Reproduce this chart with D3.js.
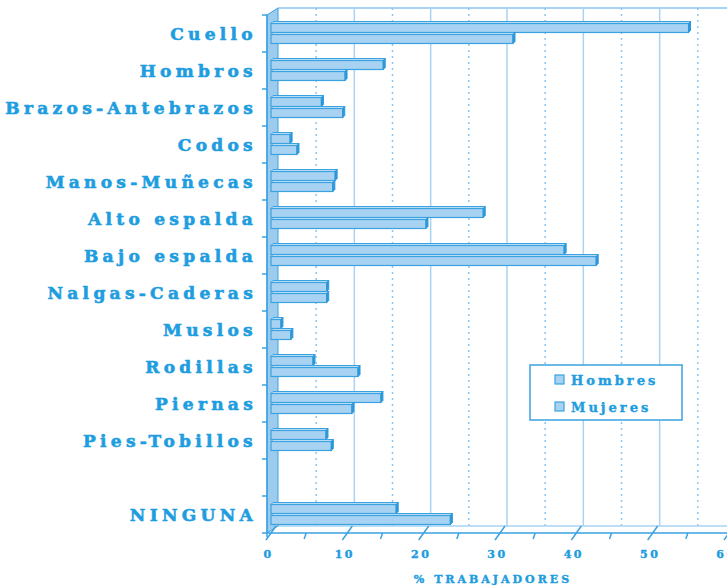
<!DOCTYPE html>
<html>
<head>
<meta charset="utf-8">
<script src="https://cdn.jsdelivr.net/npm/d3@7"></script>
<style>
  html, body { margin: 0; padding: 0; background: #ffffff; }
  svg { display: block; }
</style>
</head>
<body>
<script>
// Zonas corporales con molestias, % de trabajadores por sexo
const categories = ["Cuello", "Hombros", "Brazos-Antebrazos", "Codos", "Manos-Muñecas",
  "Alto espalda", "Bajo espalda", "Nalgas-Caderas", "Muslos", "Rodillas", "Piernas",
  "Pies-Tobillos", "", "NINGUNA"];
const hombres = [54.7, 14.7, 6.6, 2.5, 8.4, 27.8, 38.4, 7.3, 1.3, 5.5, 14.4, 7.2, null, 16.4];
const mujeres = [31.7, 9.7, 9.4, 3.4, 8.1, 20.3, 42.6, 7.3, 2.6, 11.4, 10.6, 7.9, null, 23.5];
const seriesNames = ["Hombres", "Mujeres"];
const xTicks = [0, 10, 20, 30, 40, 50, 60];
const xMinorTicks = [5, 15, 25, 35, 45, 55];
const xTitle = "% TRABAJADORES";

const W = 727, H = 587;
const TEXT = "#1e9ddf", LINE = "#3aa2e0", GRID = "#a9d3f2";
const BAR_FILL = "#a8d2f1", BAR_TOP = "#c4e1f6", BAR_END = "#2b98d9";
const FONT = "'DejaVu Serif', serif";

// 3D depth offset between front and back planes
const DX = 11, DY = -7;
const plotTop = 15, plotBottom = 533;

const svg = d3.select("body").append("svg").attr("width", W).attr("height", H);

const x = d3.scaleLinear().domain([0, 60]).range([267, 725]);
const xBar = d3.scaleLinear().domain([0, 60]).range([271, 729]);
const y = d3.scaleBand().domain(d3.range(categories.length)).range([plotTop, plotBottom]);

// heavy slab-like lettering
function heavy(sel, size, spacing) {
  sel.attr("fill", TEXT).attr("stroke", TEXT).attr("stroke-width", 0.6)
    .attr("font-family", FONT).attr("font-weight", "bold")
    .attr("font-size", size).attr("letter-spacing", spacing + "px");
}

// back wall gridlines
const g = svg.append("g");
g.append("line").attr("x1", x(0) + DX).attr("x2", W).attr("y1", plotTop + DY).attr("y2", plotTop + DY)
  .attr("stroke", GRID).attr("stroke-width", 2);
xTicks.slice(1).forEach(v => {
  g.append("line").attr("x1", x(v) + DX).attr("x2", x(v) + DX)
    .attr("y1", plotTop + DY).attr("y2", plotBottom + DY)
    .attr("stroke", GRID).attr("stroke-width", 1.5);
});
xMinorTicks.forEach(v => {
  g.append("line").attr("x1", x(v) + DX).attr("x2", x(v) + DX)
    .attr("y1", plotTop + DY).attr("y2", plotBottom + DY)
    .attr("stroke", "#8cc5ee").attr("stroke-width", 1.5).attr("stroke-dasharray", "2,4");
});

// floor edges
g.append("line").attr("x1", x(0) + DX).attr("x2", W).attr("y1", plotBottom + DY).attr("y2", plotBottom + DY)
  .attr("stroke", GRID).attr("stroke-width", 1.5);
g.append("line").attr("x1", x(0)).attr("x2", W).attr("y1", plotBottom).attr("y2", plotBottom)
  .attr("stroke", LINE).attr("stroke-width", 1.5);

// left wall, seen edge-on
g.append("polygon")
  .attr("points", [[x(0), plotTop], [x(0) + DX, plotTop + DY], [x(0) + DX, plotBottom + DY], [x(0), plotBottom]].join(" "))
  .attr("fill", "#9ccbee").attr("stroke", LINE).attr("stroke-width", 1);
g.append("line").attr("x1", x(0)).attr("x2", x(0)).attr("y1", plotTop).attr("y2", plotBottom + 4)
  .attr("stroke", LINE).attr("stroke-width", 1.5);

// category boundary ticks
d3.range(categories.length + 1).forEach(i => {
  const yy = plotTop + i * y.step();
  g.append("line").attr("x1", x(0) - 5).attr("x2", x(0)).attr("y1", yy).attr("y2", yy)
    .attr("stroke", LINE).attr("stroke-width", 1.5);
});

// x ticks on the floor
xTicks.forEach(v => {
  g.append("line").attr("x1", x(v) + DX - 2).attr("y1", plotBottom + DY)
    .attr("x2", x(v) - 1).attr("y2", plotBottom + 7)
    .attr("stroke", LINE).attr("stroke-width", 1.5);
});
xMinorTicks.forEach(v => {
  g.append("line").attr("x1", x(v) + 1).attr("y1", plotBottom)
    .attr("x2", x(v) - 1).attr("y2", plotBottom + 6)
    .attr("stroke", LINE).attr("stroke-width", 1.5);
});

// bars
const barH = 11, depth = 2;
function drawBar(val, yTop) {
  if (val == null) return;
  const x0 = xBar(0), x1 = xBar(val);
  const bg = svg.append("g");
  bg.append("polygon")
    .attr("points", [[x0, yTop + depth], [x0 + depth, yTop], [x1 + depth, yTop], [x1, yTop + depth]].join(" "))
    .attr("fill", BAR_TOP).attr("stroke", LINE).attr("stroke-width", 1);
  bg.append("rect").attr("x", x0).attr("y", yTop + depth).attr("width", x1 - x0).attr("height", barH - depth)
    .attr("fill", BAR_FILL).attr("stroke", LINE).attr("stroke-width", 1.2);
  bg.append("polygon")
    .attr("points", [[x1, yTop + depth], [x1 + depth, yTop], [x1 + depth, yTop + barH - depth], [x1, yTop + barH]].join(" "))
    .attr("fill", BAR_END).attr("stroke", BAR_END).attr("stroke-width", 1);
}
categories.forEach((c, i) => {
  const mid = y(i) + y.bandwidth() / 2 - 1;
  drawBar(hombres[i], mid - barH);
  drawBar(mujeres[i], mid);
});

// category labels
const yAxis = d3.axisLeft(y).tickSize(0).tickPadding(0).tickFormat(i => categories[i]);
const ya = svg.append("g").attr("transform", "translate(257,0)").call(yAxis);
ya.select(".domain").remove();
ya.selectAll("text").call(heavy, 17, 4.3).attr("dy", "0.36em");

// x tick labels
const xAxis = d3.axisBottom(x).tickValues(xTicks).tickSize(0).tickPadding(0);
const xa = svg.append("g").attr("transform", `translate(0,${plotBottom + 25})`).call(xAxis);
xa.select(".domain").remove();
xa.selectAll("text").call(heavy, 11, 2.5).attr("stroke-width", 0.4).attr("dx", "1px").attr("dy", 0);

svg.append("text").attr("x", 493).attr("y", 583).attr("text-anchor", "middle")
  .call(heavy, 11, 3).attr("stroke-width", 0.4).text(xTitle);

// legend
const lg = svg.append("g");
lg.append("rect").attr("x", 530).attr("y", 365).attr("width", 152).attr("height", 55)
  .attr("fill", "#ffffff").attr("stroke", LINE).attr("stroke-width", 1.5);
seriesNames.forEach((s, i) => {
  const yy = 375 + i * 27;
  lg.append("rect").attr("x", 555).attr("y", yy).attr("width", 9).attr("height", 9)
    .attr("fill", BAR_FILL).attr("stroke", LINE).attr("stroke-width", 1.2);
  lg.append("text").attr("x", 571).attr("y", yy + 10).call(heavy, 13, 3).attr("stroke-width", 0.4).text(s);
});
</script>
</body>
</html>
